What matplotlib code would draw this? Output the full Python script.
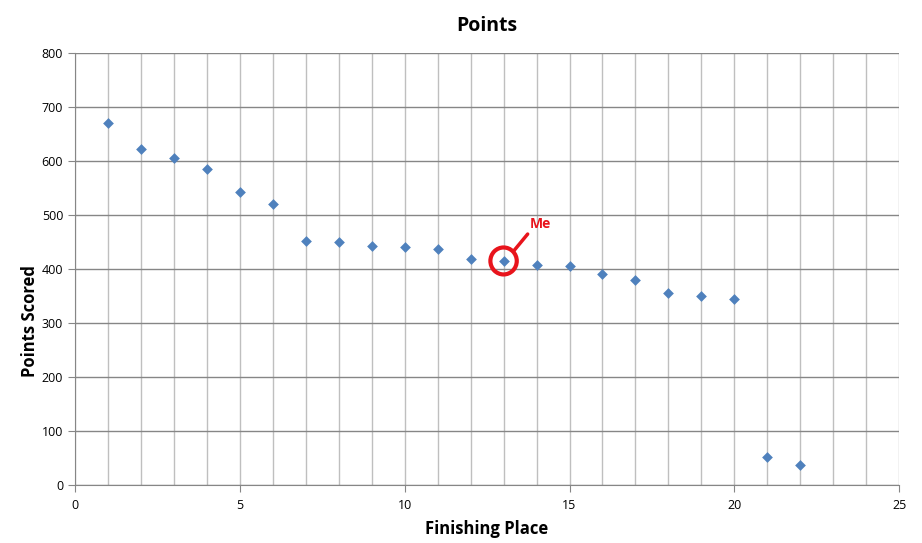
import numpy as np
import matplotlib
matplotlib.use('Agg')
import matplotlib.pyplot as plt
from matplotlib.ticker import MultipleLocator
from matplotlib.patches import Ellipse

plt.rcParams['font.family'] = ['Open Sans', 'DejaVu Sans']

# finishing place vs points
place = [1, 2, 3, 4, 5, 6, 7, 8, 9, 10, 11, 12, 13, 14, 15, 16, 17, 18, 19, 20, 21, 22]
points = [671, 623, 606, 586, 543, 521, 452, 451, 443, 441, 437, 419, 415, 408, 406, 390, 380, 356, 350, 345, 52, 37]
me_place = 13
me_points = 415

fig = plt.figure(figsize=(9.22, 5.43), dpi=100)
ax = fig.add_axes([0.0813, 0.107, 0.894, 0.795])

ax.scatter(place, points, marker='D', s=30, color='#4f81bd', zorder=3, linewidths=0)

ax.set_xlim(0, 25)
ax.set_ylim(0, 800)
ax.xaxis.set_major_locator(MultipleLocator(5))
ax.xaxis.set_minor_locator(MultipleLocator(1))
ax.yaxis.set_major_locator(MultipleLocator(100))

ax.grid(True, which='major', axis='y', color='#868686', lw=1)
ax.grid(True, which='minor', axis='x', color='#bfbfbf', lw=1)
ax.grid(True, which='major', axis='x', color='#bfbfbf', lw=1)
ax.set_axisbelow(True)

for s in ['top', 'right']:
    ax.spines[s].set_visible(False)
for s in ['left', 'bottom']:
    ax.spines[s].set_color('#868686')
ax.tick_params(which='major', direction='out', length=5, color='#868686', labelsize=9)
ax.tick_params(which='minor', length=0)
ax.tick_params(axis='x', pad=5)

ax.set_title('Points', fontsize=14, fontweight='bold', pad=16)
ax.set_xlabel('Finishing Place', fontsize=12, fontweight='bold', labelpad=6)
ax.set_ylabel('Points Scored', fontsize=12, fontweight='bold')
ax.yaxis.set_label_coords(-0.044, 0.38)

# circle round my result
circ = Ellipse((me_place, me_points), width=0.8, height=50, fill=False,
               edgecolor='#e8141c', lw=3, zorder=4)
ax.add_patch(circ)
ax.annotate('Me', xy=(me_place + 0.3, me_points + 18), xytext=(me_place + 0.8, me_points + 55),
            color='#e8141c', fontsize=10, fontweight='bold',
            arrowprops=dict(arrowstyle='-', color='#e8141c', lw=2.5, shrinkA=0, shrinkB=0,
                            relpos=(0.0, 0.0)),
            va='bottom', ha='left', zorder=5)

fig.savefig('out.png', dpi=100)
